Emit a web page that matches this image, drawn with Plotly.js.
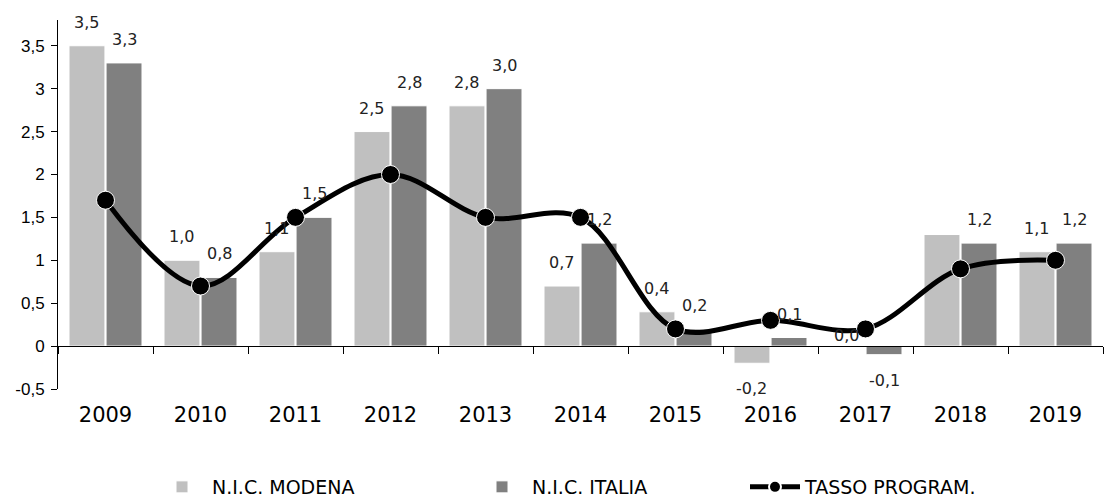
<!DOCTYPE html>
<html>
<head>
<meta charset="utf-8">
<script src="https://cdn.plot.ly/plotly-3.0.1.min.js"></script>
<style>html,body{margin:0;padding:0;background:#fff;}#chart{width:1104px;height:497px;}</style>
</head>
<body>
<div id="chart"></div>
<script>
const years = ['2009','2010','2011','2012','2013','2014','2015','2016','2017','2018','2019'];
const nicModena = [3.5, 1.0, 1.1, 2.5, 2.8, 0.7, 0.4, -0.2, 0.0, 1.3, 1.1];
const nicItalia = [3.3, 0.8, 1.5, 2.8, 3.0, 1.2, 0.2, 0.1, -0.1, 1.2, 1.2];
const tassoProgram = [1.7, 0.7, 1.5, 2.0, 1.5, 1.5, 0.2, 0.3, 0.2, 0.9, 1.0];
const modenaLabels = ['3,5','1,0','1,1','2,5','2,8','0,7','0,4','-0,2','0,0','','1,1'];
const italiaLabels = ['3,3','0,8','1,5','2,8','3,0','1,2','0,2','0,1','-0,1','1,2','1,2'];
const yTicks = [-0.5, 0, 0.5, 1, 1.5, 2, 2.5, 3, 3.5];
const yTickText = ['-0,5','0','0,5','1','1,5','2','2,5','3','3,5'];

const verdana = '"DejaVu Sans", Verdana, sans-serif';
const arial = '"Liberation Sans", Arial, sans-serif';
const colModena = '#c0c0c0', colItalia = '#808080';

const W = 1104, H = 497;
const margin = {l: 58, r: 1, t: 20, b: 108, autoexpand: false};
const bargap = 0.22;
const plotW = W - margin.l - margin.r;
const plotH = H - margin.t - margin.b;
const barOffset = plotW / years.length * (1 - bargap) / 4;

const traces = [
  {type: 'bar', name: 'N.I.C. MODENA', x: years, y: nicModena, legend: 'legend',
   marker: {color: colModena, line: {color: '#ffffff', width: 1}}, hoverinfo: 'y'},
  {type: 'bar', name: 'N.I.C. ITALIA', x: years, y: nicItalia, legend: 'legend2',
   marker: {color: colItalia, line: {color: '#ffffff', width: 1}}, hoverinfo: 'y'},
  {type: 'scatter', mode: 'lines+markers', name: 'TASSO PROGRAM.', x: years, y: tassoProgram,
   legend: 'legend3',
   line: {color: '#000', width: 5, shape: 'spline', smoothing: 1},
   marker: {color: '#000', size: 18, line: {color: '#fff', width: 1}}, cliponaxis: false}
];

function labelAnns(values, labels, side) {
  const out = [];
  values.forEach((v, i) => {
    if (labels[i] === '') return;
    out.push({
      x: i, y: v, xref: 'x', yref: 'y', text: labels[i], showarrow: false,
      xshift: side * barOffset,
      yanchor: v < 0 ? 'top' : 'bottom',
      yshift: v > 0 ? 12 : (v < 0 ? -14 : -1),
      font: {family: verdana, size: 16, color: '#222'}
    });
  });
  return out;
}
const annotations = labelAnns(nicModena, modenaLabels, -1).concat(labelAnns(nicItalia, italiaLabels, 1));

const yMin = -0.5, yMax = 3.8;
const legendY = -(487 - (H - margin.b)) / plotH;
const legendX = px => (px - margin.l) / plotW;
const legendBase = {orientation: 'h', xanchor: 'left', y: legendY, yanchor: 'middle',
  itemwidth: 50, font: {family: verdana, size: 19, color: '#000'}, bgcolor: 'rgba(0,0,0,0)'};

const layout = {
  width: W, height: H, margin: margin,
  paper_bgcolor: '#fff', plot_bgcolor: '#fff',
  barmode: 'group', bargap: bargap, bargroupgap: 0.03,
  showlegend: true,
  legend: Object.assign({}, legendBase, {x: legendX(152)}),
  legend2: Object.assign({}, legendBase, {x: legendX(472)}),
  legend3: Object.assign({}, legendBase, {x: legendX(745), itemsizing: 'constant'}),
  annotations: annotations,
  xaxis: {type: 'category', range: [-0.5, years.length - 0.5], fixedrange: true,
          anchor: 'free', position: (0 - yMin) / (yMax - yMin),
          showline: true, linecolor: '#000', linewidth: 1,
          ticks: 'outside', tickson: 'boundaries', ticklen: 7, tickcolor: '#000',
          ticklabelstandoff: 50, showgrid: false, zeroline: false,
          tickfont: {family: verdana, size: 21, color: '#000'}},
  yaxis: {range: [yMin, yMax], tickmode: 'array', tickvals: yTicks, ticktext: yTickText,
          showline: true, linecolor: '#000', linewidth: 1, ticks: 'outside', ticklen: 6,
          ticklabelstandoff: 3, tickcolor: '#000', showgrid: false, zeroline: false,
          tickfont: {family: arial, size: 17, color: '#000'}}
};

Plotly.newPlot('chart', traces, layout, {displayModeBar: false, staticPlot: true});
</script>
</body>
</html>
